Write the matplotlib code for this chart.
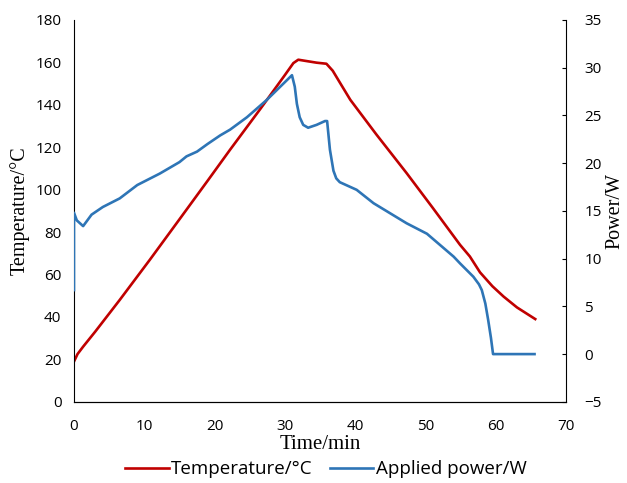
import matplotlib.pyplot as plt

# Temperature curve (left axis)
temp_t = [0, 0.5, 1.3, 3, 6.5, 10.8, 15, 19.1, 22.2, 26.5, 30, 31.2, 31.9, 33, 34.5, 35.9, 36.8, 37.8, 39.3,
          43, 47.3, 51, 54.9, 56.3, 57.75, 59.5, 61.1, 63, 65.6]
temp_v = [19, 22.5, 26, 33, 48, 67, 86, 104.6, 118.8, 138, 154, 159.6, 161.2, 160.6, 159.8, 159.3, 156, 150.5, 142.3,
          126, 107.8, 91.5, 74, 68.5, 61, 54.5, 49.6, 44.5, 39]

# Applied power curve (right axis)
pow_t = [0, 0, 0.4, 1.3, 2.5, 4.1, 6.5, 9, 12.2, 15, 16, 17.5, 19, 20.8, 22.2, 24.6, 27.4, 31.0, 31.4, 31.7, 32.1,
         32.6, 33.3, 34.5, 35.7, 36.0, 36.4, 36.9, 37.3, 37.8, 39.3, 40.2, 42.6, 47.3, 50.2, 54.0, 54.9, 56.8,
         57.6, 58.0, 58.5, 58.9, 59.3, 59.6, 62, 65.5]
pow_v = [6.7, 14.8, 14.0, 13.4, 14.6, 15.4, 16.3, 17.7, 18.9, 20.1, 20.7, 21.2, 22.0, 22.9, 23.5, 24.8, 26.6, 29.2, 28.0, 26.2, 24.8,
         24.0, 23.7, 24.0, 24.4, 24.4, 21.4, 19.2, 18.4, 18.0, 17.5, 17.2, 15.8, 13.7, 12.6, 10.2, 9.5, 8.1,
         7.3, 6.7, 5.3, 3.6, 1.7, 0, 0, 0]

plt.rcParams['font.family'] = ['Open Sans', 'DejaVu Sans']

fig = plt.figure(figsize=(6.27, 4.83), dpi=100)
ax1 = fig.add_axes([0.118, 0.168, 0.785, 0.791])
ax2 = ax1.twinx()

l1, = ax1.plot(temp_t, temp_v, color='#C00000', linewidth=1.9, label='Temperature/°C')
l2, = ax2.plot(pow_t, pow_v, color='#2E75B6', linewidth=1.9, label='Applied power/W')

ax1.set_xlim(0, 70)
ax1.set_ylim(0, 180)
ax2.set_ylim(-5, 35)
ax1.set_xticks(range(0, 71, 10))
ax1.set_yticks(range(0, 181, 20))
ax2.set_yticks(range(-5, 36, 5))
ax2.set_yticklabels(['−5' if v == -5 else str(v) for v in range(-5, 36, 5)])

for a in (ax1, ax2):
    a.spines['top'].set_visible(False)
ax1.spines['right'].set_visible(False)
ax2.spines['left'].set_visible(False)

ax1.tick_params(axis='x', length=0, labelsize=11, pad=12)
ax1.tick_params(axis='y', length=0, labelsize=11, pad=9)
ax2.tick_params(axis='y', direction='in', length=3, labelsize=11, pad=13)

serif = ['Liberation Serif', 'DejaVu Serif']
ax1.set_xlabel('Time/min', fontsize=15, family=serif, labelpad=1)
ax1.set_ylabel('Temperature/°C', fontsize=14.5, family=serif, labelpad=4)
ax2.set_ylabel('Power/W', fontsize=14.5, family=serif, labelpad=3)

fig.legend(handles=[l1, l2], loc='lower center', bbox_to_anchor=(0.52, -0.025), ncol=2,
           frameon=False, fontsize=13.5, handlelength=2.3, columnspacing=0.9, handletextpad=0.15)

fig.savefig('out.png', dpi=100)
